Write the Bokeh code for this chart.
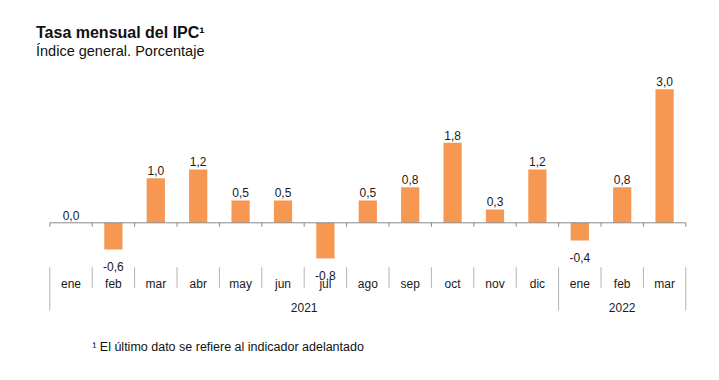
from bokeh.plotting import figure
from bokeh.models import Range1d
from bokeh.embed import file_html
from bokeh.resources import INLINE
from bokeh.core.properties import value

# ---- data ----
months = ["ene", "feb", "mar", "abr", "may", "jun", "jul", "ago", "sep", "oct", "nov", "dic", "ene", "feb", "mar"]
years = ["2021"] * 12 + ["2022"] * 3
rates = [0.0, -0.6, 1.0, 1.2, 0.5, 0.5, -0.8, 0.5, 0.8, 1.8, 0.3, 1.2, -0.4, 0.8, 3.0]
title = "Tasa mensual del IPC\u00b9"
subtitle = "\u00cdndice general. Porcentaje"
footnote = "\u00b9 El \u00faltimo dato se refiere al indicador adelantado"

# ---- layout constants (figure pixels) ----
W, H = 711, 372
X0 = 49.3        # left edge of first category
CAT_PX = 42.4    # width of one category
Y0 = 222.3       # zero line from top
UNIT_PX = 44.5   # pixels per percentage point

FONT = "Liberation Sans"
ORANGE = "#F79852"
AXIS_COLOR = "#8a8a8a"
SEP_COLOR = "#b4b4b4"
TEXT_COLOR = "#1a1a1a"


def fy(py):
    return (Y0 - py) / UNIT_PX


def fx(px):
    return (px - X0) / CAT_PX


p = figure(width=W, height=H,
           x_range=Range1d(fx(0), fx(W)), y_range=Range1d(fy(H), fy(0)),
           output_backend="svg", toolbar_location=None, min_border=0,
           outline_line_color=None, x_axis_location=None, y_axis_location=None,
           background_fill_color="white", border_fill_color="white")
p.grid.visible = False

n = len(rates)
centers = [i + 0.5 for i in range(n)]

# bars
p.vbar(x=centers, top=rates, bottom=0, width=0.43, fill_color=ORANGE, line_color=None)

# zero axis line and ticks
p.segment(x0=[0], y0=[0], x1=[n], y1=[0], line_color=AXIS_COLOR, line_width=1)
bounds = list(range(n + 1))
p.segment(x0=bounds, y0=[0] * len(bounds), x1=bounds, y1=[-4 / UNIT_PX] * len(bounds),
          line_color=AXIS_COLOR, line_width=1)

# separators in the category area
group_bounds = [0] + [i for i in range(1, n) if years[i] != years[i - 1]] + [n]
inner = [b for b in range(1, n) if b not in group_bounds]
p.segment(x0=inner, y0=[fy(266.7)] * len(inner), x1=inner, y1=[fy(287.3)] * len(inner),
          line_color=SEP_COLOR, line_width=1)
p.segment(x0=group_bounds, y0=[fy(266.7)] * len(group_bounds), x1=group_bounds,
          y1=[fy(310)] * len(group_bounds), line_color=SEP_COLOR, line_width=1)

# value labels
lab_txt = [f"{v:.1f}".replace(".", ",") for v in rates]
lab_y = [v + 7.7 / UNIT_PX if v >= 0 else v - 16.8 / UNIT_PX for v in rates]
p.text(x=centers, y=lab_y, text=lab_txt, text_align="center", text_baseline="alphabetic",
       text_font=value(FONT), text_font_size="12px", text_color=TEXT_COLOR)

# month labels
p.text(x=centers, y=[fy(283.5)] * n, text=months, text_align="center",
       text_baseline="alphabetic", text_font=value(FONT), text_font_size="12px",
       text_color=TEXT_COLOR)

# year labels
yr_names = [years[group_bounds[k]] for k in range(len(group_bounds) - 1)]
yr_x = [(group_bounds[k] + group_bounds[k + 1]) / 2 for k in range(len(group_bounds) - 1)]
p.text(x=yr_x, y=[fy(306.5)] * len(yr_x), text=yr_names, text_align="center",
       text_baseline="alphabetic", text_font=value(FONT), text_font_size="12px",
       text_color=TEXT_COLOR)

# title, subtitle, footnote
p.text(x=[fx(35.5)], y=[fy(32.3)], text=[title], text_align="left", text_baseline="alphabetic",
       text_font=value(FONT), text_font_size="16px", text_font_style="bold", text_color="#111111")
p.text(x=[fx(35.5)], y=[fy(50)], text=[subtitle], text_align="left", text_baseline="alphabetic",
       text_font=value(FONT), text_font_size="14.5px", text_color="#111111")
p.text(x=[fx(91.7)], y=[fy(346.7)], text=[footnote], text_align="left", text_baseline="alphabetic",
       text_font=value(FONT), text_font_size="12.5px", text_color="#111111")

open("out.html", "w").write(file_html(p, INLINE))
